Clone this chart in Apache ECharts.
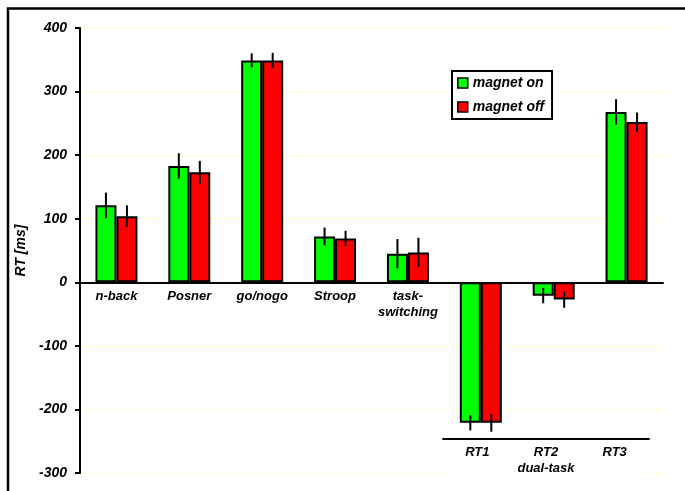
<!DOCTYPE html>
<html lang="en">
<head>
  <meta charset="UTF-8">
  <title>RT magnet on / off</title>
  <script src="https://cdn.jsdelivr.net/npm/echarts@6/dist/echarts.min.js"></script>
  <style>
    html, body { margin: 0; padding: 0; background: #fff; }
    #main { width: 685px; height: 491px; }
  </style>
</head>
<body>
  <div id="main"></div>
</body>
<script>
  // values (ms)
  let categories = ['n-back', 'Posner', 'go/nogo', 'Stroop', 'task-\nswitching', 'RT1', 'RT2', 'RT3']
  let dualTaskLabels = ['RT1', 'RT2\ndual-task', 'RT3']
  let magnetOn = [121, 183, 349, 72, 45, -221, -21, 268]
  let magnetOff = [104, 173, 349, 69, 47, -221, -27, 252]
  let errOn = [20, 20, 11, 14, 23, 12, 12, 20]
  let errOff = [17, 18, 12, 12, 23, 14, 13, 15]
  let yTicks = [-300, -200, -100, 0, 100, 200, 300, 400]

  let font = "'Liberation Sans', Arial, sans-serif"
  let barWidth = 21
  let gridTop = 28
  let gridBottom = 18

  initChart()

  function errorBars(offset) {
    return function (params, api) {
      let i = api.value(0)
      let v = api.value(1)
      let e = api.value(2)
      let top = api.coord([i, v + e])
      let bot = api.coord([i, v - e])
      return {
        type: 'line',
        shape: { x1: top[0] + offset, y1: top[1], x2: top[0] + offset, y2: bot[1] },
        style: { stroke: '#000', lineWidth: 2 }
      }
    }
  }

  function initChart() {
    let myChart = echarts.init(document.getElementById('main'))
    let labelStyle = { fontFamily: font, fontWeight: 'bold', fontStyle: 'italic', color: '#000' }
    // move the category axis up to the zero line
    let yMin = yTicks[0], yMax = yTicks[yTicks.length - 1]
    let plotH = 491 - gridTop - gridBottom
    let zeroOffset = plotH * (0 - yMin) / (yMax - yMin)
    let option = {
      animation: false,
      backgroundColor: '#fff',
      graphic: [{
        type: 'rect',
        silent: true,
        z: 100,
        shape: { x: 8, y: 8.5, width: 720, height: 520 },
        style: { fill: 'none', stroke: '#000', lineWidth: 2.5 }
      }],
      legend: {
        data: ['magnet on', 'magnet off'],
        orient: 'vertical',
        left: 452,
        top: 71,
        padding: [5, 8, 5, 5],
        itemGap: 10,
        itemWidth: 10,
        itemHeight: 10,
        icon: 'rect',
        borderColor: '#000',
        borderWidth: 2,
        backgroundColor: '#fff',
        itemStyle: { borderColor: '#000', borderWidth: 1.5 },
        textStyle: Object.assign({ fontSize: 14 }, labelStyle)
      },
      grid: [{
        left: 80,
        right: 22,
        top: gridTop,
        bottom: gridBottom,
        outerBoundsMode: 'none'
      }, {
        left: 443,
        width: 206,
        top: 439,
        height: 40,
        show: true,
        z: 1,
        outerBoundsMode: 'none',
        backgroundColor: '#fff',
        borderWidth: 0
      }],
      xAxis: [{
        type: 'category',
        data: categories,
        offset: -zeroOffset,
        axisLine: { onZero: false, lineStyle: { color: '#000', width: 2 } },
        axisTick: { length: 4, lineStyle: { color: '#000', width: 2 } },
        axisLabel: Object.assign({
          fontSize: 13,
          lineHeight: 16,
          margin: 6,
          interval: 0,
          formatter: function (v, i) { return i < 5 ? v : '' }
        }, labelStyle),
        splitLine: { show: false }
      }, {
        type: 'category',
        gridIndex: 1,
        z: 3,
        data: dualTaskLabels,
        position: 'top',
        axisLine: { onZero: false, lineStyle: { color: '#000', width: 2 } },
        axisTick: { show: false },
        axisLabel: Object.assign({ inside: true, fontSize: 13, lineHeight: 16, margin: 5, interval: 0 }, labelStyle),
        splitLine: { show: false }
      }],
      yAxis: [{
        type: 'value',
        min: yMin,
        max: yMax,
        interval: 100,
        name: 'RT [ms]',
        nameLocation: 'middle',
        nameGap: 50,
        nameTextStyle: Object.assign({ fontSize: 14 }, labelStyle),
        axisLine: { show: true, onZero: false, lineStyle: { color: '#000', width: 2 } },
        axisTick: { show: true, length: 5, lineStyle: { color: '#000', width: 2 } },
        axisLabel: Object.assign({ fontSize: 14, margin: 13 }, labelStyle),
        splitLine: { lineStyle: { color: '#FFFFCC', width: 1 } }
      }, {
        type: 'value',
        gridIndex: 1,
        min: 0,
        max: 1,
        show: false
      }],
      series: [{
        name: 'magnet on',
        type: 'bar',
        data: magnetOn,
        barWidth: barWidth,
        barGap: '0%',
        itemStyle: { color: '#00FF00', borderColor: '#000', borderWidth: 2 }
      }, {
        name: 'magnet off',
        type: 'bar',
        data: magnetOff,
        barWidth: barWidth,
        barGap: '0%',
        itemStyle: { color: '#FF0000', borderColor: '#000', borderWidth: 2 }
      }, {
        name: 'err on',
        type: 'custom',
        z: 5,
        renderItem: errorBars(-barWidth / 2),
        encode: { x: 0, y: 1 },
        data: magnetOn.map(function (v, i) { return [i, v, errOn[i]] })
      }, {
        name: 'err off',
        type: 'custom',
        z: 5,
        renderItem: errorBars(barWidth / 2),
        encode: { x: 0, y: 1 },
        data: magnetOff.map(function (v, i) { return [i, v, errOff[i]] })
      }]
    }
    myChart.setOption(option)
  }
</script>
</html>
